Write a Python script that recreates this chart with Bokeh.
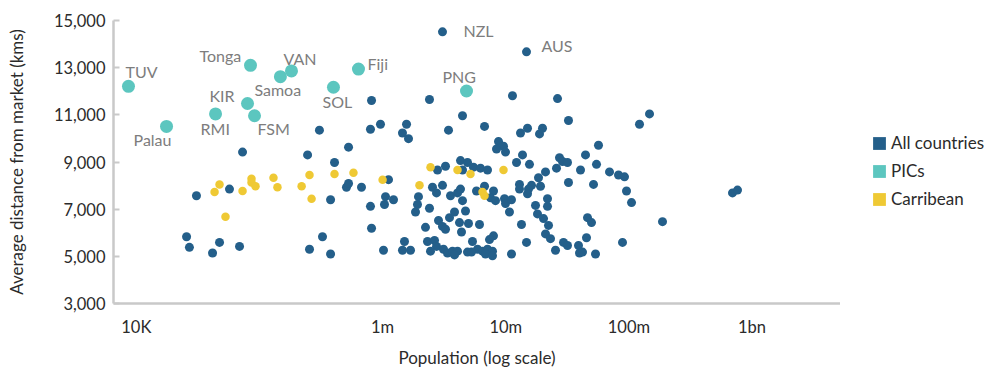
from bokeh.plotting import figure
from bokeh.layouts import row
from bokeh.models import (FixedTicker, NumeralTickFormatter, Range1d, Legend, LegendItem,
                          ColumnDataSource)
from bokeh.core.properties import value
from bokeh.embed import file_html
from bokeh.resources import INLINE

# ---------------- data (population in millions, distance in km) ----------------
all_pop = [0.0256, 0.0270, 0.0308, 0.0416, 0.0474, 0.0571, 0.0689, 0.0729, 0.246, 0.255,
           0.307, 0.325, 0.378, 0.378, 0.407, 0.509, 0.529, 0.529, 0.674, 0.797,
           0.961, 0.813, 0.797, 0.813, 1.017, 1.036, 1.056, 1.226, 1.117, 1.450,
           1.564, 1.623, 1.506, 1.450, 1.685, 1.956, 1.920, 1.850, 2.403, 3.429,
           4.455, 2.791, 3.241, 4.291, 4.891, 4.455, 2.542, 2.740, 3.064, 3.560,
           4.057, 4.291, 4.455, 2.403, 3.836, 3.493, 4.711, 2.844, 3.064, 3.241,
           4.211, 4.983, 4.372, 2.230, 2.315, 2.639, 2.740, 2.449, 3.122, 3.365,
           3.695, 4.057, 3.836, 4.891,
           11.34, 6.723, 13.18, 15.02, 18.80, 19.88, 8.733, 9.588, 8.413, 9.954,
           13.68, 12.23, 15.58, 5.472, 6.237, 7.109, 18.45, 12.93, 12.93, 16.19,
           15.30, 15.02, 19.15, 5.787, 6.723, 7.953, 7.519, 8.256, 9.768, 9.954,
           11.13, 10.72, 6.121, 17.44, 18.10, 20.26, 22.24, 13.42, 21.83, 21.83,
           21.03, 23.09, 7.953, 7.379, 5.370, 5.897, 6.476, 7.109, 7.804, 6.848,
           7.804, 5.271, 14.74, 11.13,
           26.32, 32.32, 56.63, 27.32, 28.89, 31.72, 44.42, 54.56, 25.83, 21.03,
           40.46, 32.32, 51.59, 46.12, 49.70, 25.35, 29.44, 31.72, 38.97, 39.71,
           42.01, 45.25, 53.55,
           147.0, 121.9, 69.58, 82.34, 92.11, 95.61, 105.0, 187.4, 88.72, 693.7, 761.8]
all_dist = [5830, 5380, 7570, 5140, 5590, 7850, 5420, 9420, 9300, 5300,
            10350, 5830, 7400, 5100, 8980, 7930, 8090, 9630, 7930, 10390,
            10600, 11610, 7120, 6190, 5260, 7200, 7530, 7400, 8250, 10230,
            10600, 9990, 5630, 5260, 5260, 7530, 7200, 6880, 11650, 10350,
            10960, 8660, 8820, 9060, 8980, 8660, 7930, 7690, 8010, 7570,
            7690, 7850, 7360, 7040, 6880, 6640, 6920, 6520, 6270, 6150,
            6430, 6390, 6030, 6230, 5630, 5670, 5420, 5220, 5300, 5140,
            5220, 5220, 5060, 5180,
            11810, 10510, 10230, 10430, 10190, 10430, 9870, 9670, 9550, 9420,
            9300, 8980, 8900, 8780, 8740, 8660, 8330, 8050, 7850, 8010,
            7850, 7650, 7970, 7770, 7970, 7770, 7480, 7360, 7440, 7240,
            7400, 6880, 6350, 7160, 6800, 6600, 6310, 6350, 7440, 7120,
            5950, 5750, 5870, 5710, 5630, 5300, 5220, 5300, 5220, 5100,
            5020, 5180, 5590, 5100,
            11690, 10760, 9710, 9180, 9020, 8980, 9300, 8900, 8740, 8580,
            8660, 8130, 8050, 6640, 6430, 5260, 5590, 5460, 5460, 5140,
            5180, 5790, 5100,
            11040, 10600, 8580, 8450, 8370, 7770, 7280, 6470, 5590, 7690, 7810]

named_countries = ["NZL", "AUS"]
named_pop = [3.064, 14.74]
named_dist = [14520, 13670]

pic_names = ["TUV", "Palau", "Tonga", "Samoa", "VAN", "KIR", "RMI", "FSM", "SOL", "Fiji", "PNG"]
pic_pop = [0.00864, 0.0176, 0.0846, 0.148, 0.182, 0.0800, 0.0440, 0.0912, 0.399, 0.637, 4.800]
pic_dist = [12210, 10510, 13100, 12620, 12860, 11480, 11040, 10960, 12170, 12940, 12010]

carib_pop = [0.0432, 0.0474, 0.0729, 0.0862, 0.0862, 0.0929, 0.130, 0.140, 0.220, 0.255,
             0.265, 0.407, 0.0530, 0.580, 1.0, 2.449, 1.993, 4.057, 5.173, 9.588,
             6.476, 6.723]
carib_dist = [7730, 8050, 7770, 8290, 8130, 7970, 8330, 7930, 7970, 8450,
              7440, 8490, 6680, 8540, 8250, 8780, 8010, 8660, 8490, 8660,
              7730, 7570]

x_ticks = [0.01, 1, 10, 100, 1000]
x_tick_labels = ["10K", "1m", "10m", "100m", "1bn"]
y_ticks = [3000, 5000, 7000, 9000, 11000, 13000, 15000]

series_names = ["All countries", "PICs", "Carribean"]

# ---------------- styles / positions ----------------
BLUE = "#245f8a"
TEAL = "#5cc6bf"
YELLOW = "#efc934"
GREY_LABEL = "#7d7d7d"
TEXT = "#2b2b2b"
AXIS = "#c9c9c9"
FONT = "Lato"

# screen offsets of labels (px) relative to their dots
pic_dx = [-3, -33, -51, -26, -8, -38, -15, 3, -11, 9, -24]
pic_dy = [-15, 13, -10, 13, -12, -8, 15, 13, 14, -6, -15]
named_dx = [21, 15]
named_dy = [-1, -6]

p = figure(width=840, height=370, x_axis_type="log",
           x_range=Range1d(0.00653, 5225), y_range=Range1d(3000, 15000),
           output_backend="svg", toolbar_location=None,
           min_border_left=113, min_border_right=0, min_border_top=20, min_border_bottom=53)
p.outline_line_color = None
p.grid.visible = False
p.background_fill_color = "white"
p.border_fill_color = "white"

# points
p.scatter(all_pop + named_pop, all_dist + named_dist, size=9, color=BLUE, line_color=None)
p.scatter(carib_pop, carib_dist, size=8.5, color=YELLOW, line_color=None)
p.scatter(pic_pop, pic_dist, size=13, color=TEAL, line_color=None)

# labels
lab_src = ColumnDataSource(dict(x=pic_pop + named_pop, y=pic_dist + named_dist,
                                t=pic_names + named_countries,
                                dx=pic_dx + named_dx, dy=pic_dy + named_dy))
p.text(x="x", y="y", text="t", x_offset="dx", y_offset="dy", source=lab_src,
       text_font=value(FONT), text_font_size="16px", text_color=GREY_LABEL,
       text_align="left", text_baseline="middle")

# axes
xa = p.xaxis[0]
xa.ticker = FixedTicker(ticks=x_ticks)
xa.major_label_overrides = {t: l for t, l in zip(x_ticks, x_tick_labels)}
xa.axis_label = "Population (log scale)"
xa.major_tick_line_color = None
xa.minor_tick_line_color = None
xa.major_label_standoff = 7
xa.axis_label_standoff = 7

ya = p.yaxis[0]
ya.ticker = FixedTicker(ticks=y_ticks)
ya.formatter = NumeralTickFormatter(format="0,0")
ya.axis_label = "Average distance from market (kms)"
ya.major_tick_in = 6
ya.major_tick_out = 0
ya.major_tick_line_color = AXIS
ya.major_tick_line_width = 2
ya.minor_tick_line_color = None
ya.major_label_standoff = 8
ya.axis_label_standoff = 24

for ax in (xa, ya):
    ax.axis_line_color = AXIS
    ax.axis_line_width = 2.5
    ax.major_label_text_font = FONT
    ax.major_label_text_font_size = "16.5px"
    ax.major_label_text_color = TEXT
    ax.axis_label_text_font = FONT
    ax.axis_label_text_font_size = "17px"
    ax.axis_label_text_font_style = "normal"
    ax.axis_label_text_color = TEXT

# legend panel: a second, axis-less figure holding square swatches (zero-size quads from the data)
lg = figure(width=144, height=370, x_range=Range1d(0, 1), y_range=Range1d(0, 1),
            output_backend="svg", toolbar_location=None,
            min_border_left=0, min_border_right=0, min_border_top=0, min_border_bottom=0)
lg.axis.visible = False
lg.grid.visible = False
lg.outline_line_color = None
lg.background_fill_color = "white"
lg.border_fill_color = "white"
swatches = []
for xs, ys, c in ((all_pop, all_dist, BLUE), (pic_pop, pic_dist, TEAL), (carib_pop, carib_dist, YELLOW)):
    swatches.append(lg.quad(left=xs, right=xs, top=ys, bottom=ys, fill_color=c, line_color=None))
legend = Legend(items=[LegendItem(label=n, renderers=[r]) for n, r in zip(series_names, swatches)],
                location=(31, 94), padding=0, margin=0, spacing=7,
                glyph_width=16, glyph_height=16, label_height=20, label_standoff=4,
                label_text_font=FONT, label_text_font_size="17px", label_text_color=TEXT,
                background_fill_alpha=0, border_line_color=None)
lg.add_layout(legend)

layout = row(p, lg, spacing=0)
open("out.html", "w").write(file_html(layout, INLINE))
